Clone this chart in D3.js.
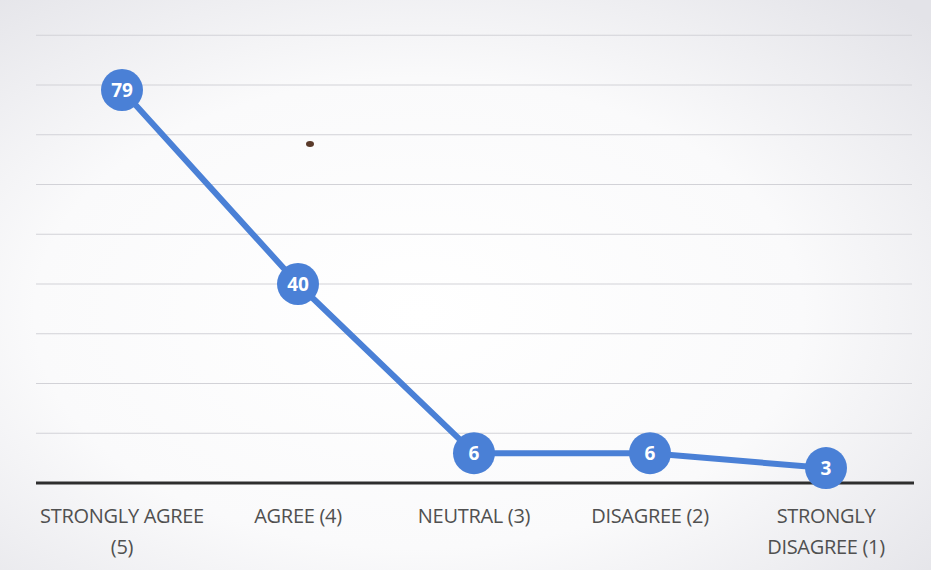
<!DOCTYPE html>
<html>
<head>
<meta charset="utf-8">
<script src="https://cdn.jsdelivr.net/npm/d3@7"></script>
<style>
  html, body { margin: 0; padding: 0; background: #fff; }
  svg { display: block; }
</style>
</head>
<body>
<svg id="chart" width="931" height="570"></svg>
<script>
const categories = ["STRONGLY AGREE (5)", "AGREE (4)", "NEUTRAL (3)", "DISAGREE (2)", "STRONGLY DISAGREE (1)"];
const categoryLines = [["STRONGLY AGREE", "(5)"], ["AGREE (4)"], ["NEUTRAL (3)"], ["DISAGREE (2)"], ["STRONGLY", "DISAGREE (1)"]];
const responses = [79, 40, 6, 6, 3];
const gridTicks = [10, 20, 30, 40, 50, 60, 70, 80, 90];

const svg = d3.select("#chart");
const width = 931, height = 570;
const blue = "#4a80d6";
const labelFont = "'Open Sans', sans-serif";

// scanned paper look
const defs = svg.append("defs");
const grad = defs.append("radialGradient")
  .attr("id", "paper")
  .attr("cx", "45%").attr("cy", "55%").attr("r", "75%");
grad.append("stop").attr("offset", "0%").attr("stop-color", "#ffffff");
grad.append("stop").attr("offset", "55%").attr("stop-color", "#fafafb");
grad.append("stop").attr("offset", "100%").attr("stop-color", "#e3e3e8");
svg.append("rect").attr("width", width).attr("height", height).attr("fill", "url(#paper)");

const x = d3.scalePoint().domain(categories).range([34, 914]).padding(0.5);
const y = d3.scaleLinear().domain([0, 90]).range([483, 35.25]);

// gridlines
svg.append("g")
  .selectAll("line")
  .data(gridTicks)
  .join("line")
  .attr("x1", 36)
  .attr("x2", 912)
  .attr("y1", (d) => y(d))
  .attr("y2", (d) => y(d))
  .attr("stroke", "#d2d2d7")
  .attr("stroke-width", 1);

// baseline axis
const axis = svg.append("g")
  .attr("transform", `translate(0,${y(0)})`)
  .call(d3.axisBottom(x).tickSize(0).tickFormat(""));
axis.select(".domain")
  .attr("d", "M36,0H914")
  .attr("stroke", "#2e2e2e")
  .attr("stroke-width", 3);

// category labels
svg.append("g")
  .selectAll("text")
  .data(categories)
  .join("text")
  .attr("x", (d) => x(d))
  .attr("y", 523)
  .attr("text-anchor", "middle")
  .attr("font-family", labelFont)
  .attr("font-size", 20)
  .attr("letter-spacing", -0.3)
  .attr("fill", "#505050")
  .each(function (d, i) {
    const t = d3.select(this);
    categoryLines[i].forEach((line, k) => {
      t.append("tspan")
        .attr("x", x(d))
        .attr("dy", k === 0 ? 0 : 31)
        .text(line);
    });
  });

// line
const points = categories.map((c, i) => [x(c), y(responses[i])]);
svg.append("path")
  .attr("d", d3.line()(points))
  .attr("fill", "none")
  .attr("stroke", blue)
  .attr("stroke-width", 6)
  .attr("stroke-linejoin", "round");

// markers
const markers = svg.append("g")
  .selectAll("g")
  .data(points)
  .join("g")
  .attr("transform", (p) => `translate(${p[0]},${p[1]})`);
markers.append("circle")
  .attr("r", 21)
  .attr("fill", blue);
markers.append("text")
  .attr("text-anchor", "middle")
  .attr("dy", "0.36em")
  .attr("font-family", labelFont)
  .attr("font-weight", "bold")
  .attr("font-size", 19)
  .attr("fill", "#fff")
  .text((p, i) => responses[i]);

// small ink speck on the scan
svg.append("ellipse")
  .attr("cx", 310).attr("cy", 144)
  .attr("rx", 4).attr("ry", 3)
  .attr("fill", "#5a3a2a");
</script>
</body>
</html>
